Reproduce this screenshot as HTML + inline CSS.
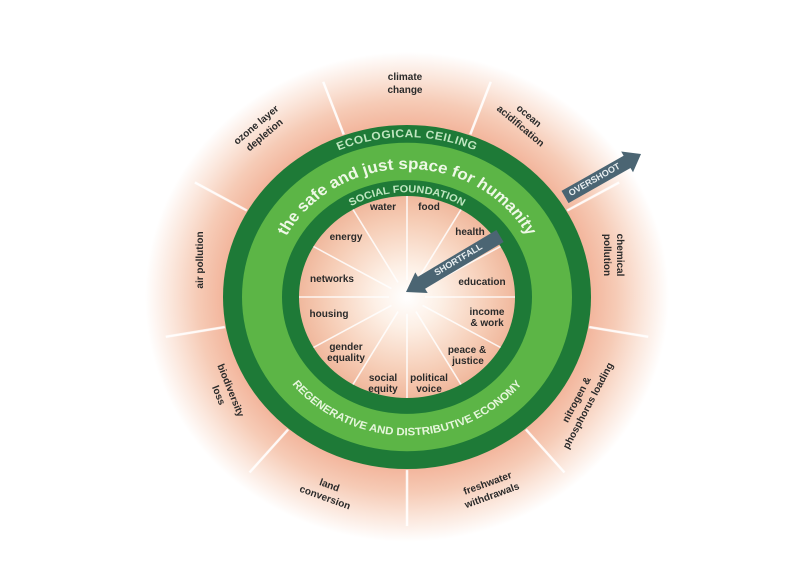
<!DOCTYPE html>
<html><head><meta charset="utf-8"><style>
html,body{margin:0;padding:0;background:#fff;}
svg{display:block;}
text{font-family:"Liberation Sans",sans-serif;font-weight:bold;}
</style></head><body>
<svg width="800" height="565" viewBox="0 0 800 565" xmlns="http://www.w3.org/2000/svg">
<defs>
<radialGradient id="outer" cx="0" cy="0" r="262" gradientUnits="userSpaceOnUse">
<stop offset="0.68" stop-color="#f2b197"/>
<stop offset="0.8" stop-color="#f6cbb6"/>
<stop offset="0.9" stop-color="#fbe6db"/>
<stop offset="1" stop-color="#ffffff"/>
</radialGradient>
<radialGradient id="inner" cx="0" cy="0" r="108" gradientUnits="userSpaceOnUse">
<stop offset="0" stop-color="#ffffff"/>
<stop offset="0.3" stop-color="#fdf0e6"/>
<stop offset="0.75" stop-color="#f6cdb6"/>
<stop offset="1" stop-color="#f0b89d"/>
</radialGradient>
<path id="arcEco" d="M -171,0 A 171 171 0 0 1 171,0"/>
<path id="arcSafe" d="M -137,0 A 137 137 0 0 1 137,0"/>
<path id="arcSoc" d="M -112,0 A 112 112 0 0 1 112,0"/>
<path id="arcReg" d="M -148,0 A 148 148 0 0 0 148,0"/>
</defs>
<g transform="translate(407,297) scale(1,0.935)">
<circle r="262" fill="url(#outer)"/>
<g stroke="#fff" stroke-width="2.5" opacity="0.9">
<g transform="rotate(-110)"><line x1="185" y1="0" x2="245" y2="0"/></g>
<g transform="rotate(-70)"><line x1="185" y1="0" x2="245" y2="0"/></g>
<g transform="rotate(-30)"><line x1="185" y1="0" x2="245" y2="0"/></g>
<g transform="rotate(10)"><line x1="185" y1="0" x2="245" y2="0"/></g>
<g transform="rotate(50)"><line x1="185" y1="0" x2="245" y2="0"/></g>
<g transform="rotate(90)"><line x1="185" y1="0" x2="245" y2="0"/></g>
<g transform="rotate(130)"><line x1="185" y1="0" x2="245" y2="0"/></g>
<g transform="rotate(170)"><line x1="185" y1="0" x2="245" y2="0"/></g>
<g transform="rotate(210)"><line x1="185" y1="0" x2="245" y2="0"/></g>
</g>
<circle r="184" fill="#1e7a37"/>
<circle r="165" fill="#5cb546"/>
<circle r="125" fill="#1e7a37"/>
<circle r="108" fill="url(#inner)"/>
<g stroke="#fff" stroke-width="1.6" opacity="0.85">
<g transform="rotate(-90)"><line x1="18" y1="0" x2="108" y2="0"/></g>
<g transform="rotate(-60)"><line x1="18" y1="0" x2="108" y2="0"/></g>
<g transform="rotate(-30)"><line x1="18" y1="0" x2="108" y2="0"/></g>
<g transform="rotate(0)"><line x1="18" y1="0" x2="108" y2="0"/></g>
<g transform="rotate(30)"><line x1="18" y1="0" x2="108" y2="0"/></g>
<g transform="rotate(60)"><line x1="18" y1="0" x2="108" y2="0"/></g>
<g transform="rotate(90)"><line x1="18" y1="0" x2="108" y2="0"/></g>
<g transform="rotate(120)"><line x1="18" y1="0" x2="108" y2="0"/></g>
<g transform="rotate(150)"><line x1="18" y1="0" x2="108" y2="0"/></g>
<g transform="rotate(180)"><line x1="18" y1="0" x2="108" y2="0"/></g>
<g transform="rotate(210)"><line x1="18" y1="0" x2="108" y2="0"/></g>
<g transform="rotate(240)"><line x1="18" y1="0" x2="108" y2="0"/></g>
</g>
<text font-size="12" fill="#bfe6c0" letter-spacing="0.5" font-weight="normal"><textPath href="#arcEco" startOffset="50%" text-anchor="middle">ECOLOGICAL CEILING</textPath></text>
<text font-size="17" fill="#eef8e6"><textPath href="#arcSafe" startOffset="50%" text-anchor="middle">the safe and just space for humanity</textPath></text>
<text font-size="11" fill="#bfe6c0" font-weight="normal"><textPath href="#arcSoc" startOffset="50%" text-anchor="middle">SOCIAL FOUNDATION</textPath></text>
<text font-size="11.5" fill="#e6f6dc" font-weight="normal"><textPath href="#arcReg" startOffset="50%" text-anchor="middle">REGENERATIVE AND DISTRIBUTIVE ECONOMY</textPath></text>
</g>
<!-- arrows -->
<g fill="#4b6573">
<polygon points="561.5,190.9 623.6,155.8 621.2,151.5 641,154 633,172.3 630.5,168 568.5,203.1"/>
<polygon points="496.4,230 417.9,276.7 415.3,272.4 406,292 427.7,293 425.1,288.7 503.6,242"/>
</g>
<text x="0" y="3.5" font-size="9" fill="#e8eef0" text-anchor="middle" transform="translate(594,179) rotate(-29.5)">OVERSHOOT</text>
<text x="0" y="3.5" font-size="9" fill="#e8eef0" text-anchor="middle" transform="translate(458,259) rotate(-30.8)">SHORTFALL</text>
<!-- inner labels -->
<g font-size="10" fill="#2a2a2a" text-anchor="middle">
<text x="383" y="210">water</text>
<text x="429" y="210">food</text>
<text x="470" y="235">health</text>
<text x="482" y="285">education</text>
<text x="487" y="315">income</text><text x="487" y="326">&amp; work</text>
<text x="467" y="353">peace &amp;</text><text x="468" y="364">justice</text>
<text x="429" y="381">political</text><text x="429" y="392">voice</text>
<text x="383" y="381">social</text><text x="383" y="392">equity</text>
<text x="346" y="350">gender</text><text x="346" y="361">equality</text>
<text x="329" y="317">housing</text>
<text x="332" y="282">networks</text>
<text x="346" y="240">energy</text>
</g>
<!-- outer labels -->
<g font-size="10" fill="#2a2a2a" text-anchor="middle">
<text x="405" y="80">climate</text><text x="405" y="93">change</text>
<g transform="translate(523,123) rotate(40)"><text x="0" y="-6">ocean</text><text x="0" y="7">acidification</text></g>
<g transform="translate(262,132) rotate(-40)"><text x="0" y="-6">ozone layer</text><text x="0" y="7">depletion</text></g>
<g transform="translate(203,260) rotate(-90)"><text x="0" y="0">air pollution</text></g>
<g transform="translate(613,255) rotate(90)"><text x="0" y="-4">chemical</text><text x="0" y="9">pollution</text></g>
<g transform="translate(224,393) rotate(68)"><text x="0" y="-4">biodiversity</text><text x="0" y="9">loss</text></g>
<g transform="translate(583,403) rotate(-62)"><text x="0" y="-4">nitrogen &amp;</text><text x="0" y="9">phosphorus loading</text></g>
<g transform="translate(327,492) rotate(20)"><text x="0" y="-4">land</text><text x="0" y="9">conversion</text></g>
<g transform="translate(490,490) rotate(-20)"><text x="0" y="-4">freshwater</text><text x="0" y="9">withdrawals</text></g>
</g>
</svg>
</body></html>
